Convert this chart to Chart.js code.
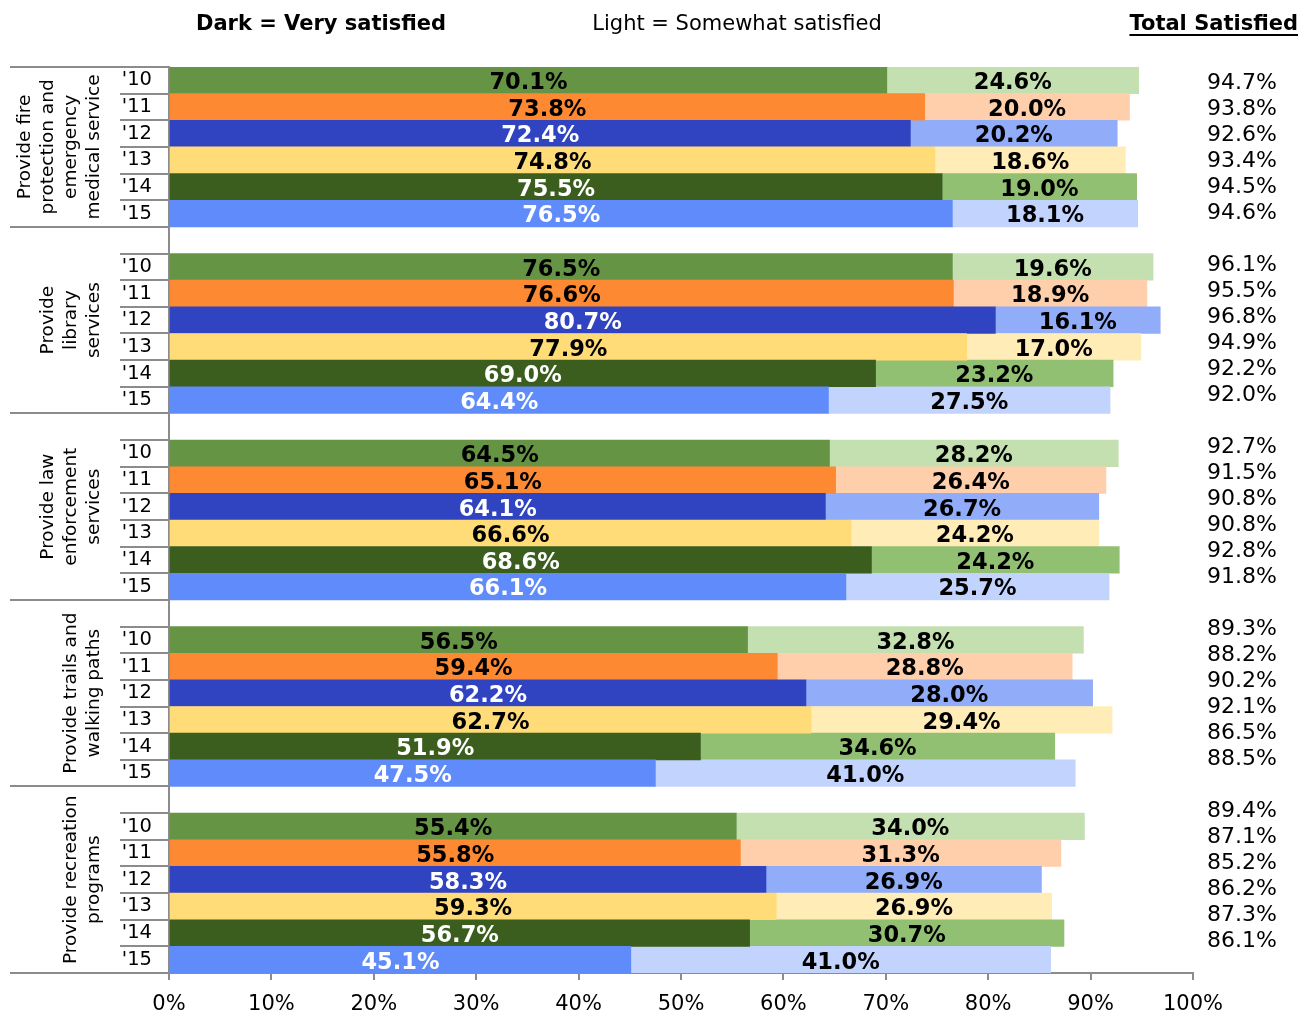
<!DOCTYPE html>
<html>
<head>
<meta charset="utf-8">
<script src="https://cdn.jsdelivr.net/npm/chart.js@4.4.0/dist/chart.umd.min.js"></script>
<style>
  body { margin: 0; background: #fff; }
  #wrap { width: 1314px; height: 1015px; }
</style>
</head>
<body>
<div id="wrap"><canvas id="grafico" width="1314" height="1015"></canvas></div>
<script>
// Años y grupos
const years = ["'10", "'11", "'12", "'13", "'14", "'15"];
const groupNames = [
  ["Provide fire", "protection and", "emergency", "medical service"],
  ["Provide", "library", "services"],
  ["Provide law", "enforcement", "services"],
  ["Provide trails and", "walking paths"],
  ["Provide recreation", "programs"]
];

// Muy satisfecho (oscuro) / algo satisfecho (claro) / total
const fireDark = [70.1, 73.8, 72.4, 74.8, 75.5, 76.5];
const fireLight = [24.6, 20.0, 20.2, 18.6, 19.0, 18.1];
const fireTotal = [94.7, 93.8, 92.6, 93.4, 94.5, 94.6];

const libraryDark = [76.5, 76.6, 80.7, 77.9, 69.0, 64.4];
const libraryLight = [19.6, 18.9, 16.1, 17.0, 23.2, 27.5];
const libraryTotal = [96.1, 95.5, 96.8, 94.9, 92.2, 92.0];

const lawDark = [64.5, 65.1, 64.1, 66.6, 68.6, 66.1];
const lawLight = [28.2, 26.4, 26.7, 24.2, 24.2, 25.7];
const lawTotal = [92.7, 91.5, 90.8, 90.8, 92.8, 91.8];

const trailsDark = [56.5, 59.4, 62.2, 62.7, 51.9, 47.5];
const trailsLight = [32.8, 28.8, 28.0, 29.4, 34.6, 41.0];
const trailsTotal = [89.3, 88.2, 90.2, 92.1, 86.5, 88.5];

const recDark = [55.4, 55.8, 58.3, 59.3, 56.7, 45.1];
const recLight = [34.0, 31.3, 26.9, 26.9, 30.7, 41.0];
const recTotal = [89.4, 87.1, 85.2, 86.2, 87.3, 86.1];

const xTicks = [0, 10, 20, 30, 40, 50, 60, 70, 80, 90, 100];

// Colores por año
const darkColors = ["#659444", "#fd8a32", "#3043c0", "#ffdc78", "#3b5e1f", "#5f8cfa"];
const lightColors = ["#c5e0b0", "#ffcfac", "#91adf9", "#ffecb6", "#92c073", "#c2d3fd"];
const darkTextColors = ["#000", "#000", "#fff", "#000", "#fff", "#fff"];

const FONT = "'DejaVu Sans', Verdana, sans-serif";
const GRAY = "#8c8c8c";

// Construir filas (con fila vacía entre grupos)
const allDark = [fireDark, libraryDark, lawDark, trailsDark, recDark];
const allLight = [fireLight, libraryLight, lawLight, trailsLight, recLight];
const allTotal = [fireTotal, libraryTotal, lawTotal, trailsTotal, recTotal];

const labels = [], darkData = [], lightData = [], darkBg = [], lightBg = [], rowYear = [];
const groupStart = [];
allDark.forEach((g, gi) => {
  groupStart.push(labels.length);
  if (gi > 0) {
    labels.push(""); darkData.push(null); lightData.push(null);
    darkBg.push("#fff"); lightBg.push("#fff"); rowYear.push(-1);
  }
  g.forEach((v, i) => {
    labels.push(years[i]);
    darkData.push(v);
    lightData.push(allLight[gi][i]);
    darkBg.push(darkColors[i]);
    lightBg.push(lightColors[i]);
    rowYear.push(i);
  });
});
groupStart.push(labels.length);

const decorPlugin = {
  id: "decor",
  afterDraw(chart) {
    const ctx = chart.ctx;
    const y = chart.scales.y;
    const area = chart.chartArea;
    const rowH = y.getPixelForValue(1) - y.getPixelForValue(0);
    const edge = i => y.getPixelForValue(i) - rowH / 2;

    ctx.save();
    // Separadores a la izquierda
    ctx.strokeStyle = GRAY;
    ctx.lineWidth = 2;
    for (let i = 0; i <= labels.length; i++) {
      const yy = Math.round(edge(i));
      const isGroup = groupStart.includes(i);
      ctx.beginPath();
      ctx.moveTo(isGroup ? 10 : 120, yy);
      ctx.lineTo(area.left, yy);
      ctx.stroke();
    }

    // Nombres de grupo rotados
    ctx.fillStyle = "#000";
    ctx.font = "18.5px " + FONT;
    ctx.textAlign = "center";
    ctx.textBaseline = "middle";
    groupNames.forEach((lines, gi) => {
      const cy = (edge(groupStart[gi]) + edge(groupStart[gi + 1])) / 2;
      lines.forEach((line, j) => {
        const x = 94 - (lines.length - 1 - j) * 23;
        ctx.save();
        ctx.translate(x, cy);
        ctx.rotate(-Math.PI / 2);
        ctx.fillText(line, 0, 0);
        ctx.restore();
      });
    });

    // Etiquetas de valores dentro de las barras
    ctx.font = "bold 22.5px " + FONT;
    [0, 1].forEach(ds => {
      const meta = chart.getDatasetMeta(ds);
      meta.data.forEach((el, idx) => {
        const v = chart.data.datasets[ds].data[idx];
        if (v == null) return;
        ctx.fillStyle = ds === 0 ? darkTextColors[rowYear[idx]] : "#000";
        ctx.fillText(v.toFixed(1) + "%", (el.x + el.base) / 2, el.y + 3);
      });
    });

    // Columna de total (caja de texto con interlineado fijo)
    ctx.font = "22px " + FONT;
    ctx.fillStyle = "#000";
    ctx.textAlign = "right";
    allTotal.forEach((g, gi) => {
      g.forEach((v, i) => {
        ctx.fillText(v.toFixed(1) + "%", area.right + 84, area.top + 16 + (gi * 7 + i) * 26);
      });
    });

    // Encabezados
    ctx.textAlign = "center";
    ctx.font = "bold 21px " + FONT;
    ctx.fillText("Dark = Very satisfied", 321, 25);
    ctx.font = "21px " + FONT;
    ctx.fillText("Light = Somewhat satisfied", 737, 25);
    ctx.font = "bold 21px " + FONT;
    ctx.textAlign = "right";
    ctx.fillText("Total Satisfied", 1298, 25);
    const w = ctx.measureText("Total Satisfied").width;
    ctx.fillRect(1298 - w, 34, w, 2);
    ctx.restore();
  }
};

new Chart(document.getElementById("grafico"), {
  type: "bar",
  data: {
    labels: labels,
    datasets: [
      { label: "Very satisfied", data: darkData, backgroundColor: darkBg, borderWidth: 0 },
      { label: "Somewhat satisfied", data: lightData, backgroundColor: lightBg, borderWidth: 0 }
    ]
  },
  options: {
    indexAxis: "y",
    responsive: false,
    animation: false,
    categoryPercentage: 1,
    barPercentage: 1,
    layout: { padding: { left: 10, right: 121, top: 67, bottom: 0 } },
    plugins: { legend: { display: false }, tooltip: { enabled: false } },
    scales: {
      x: {
        stacked: true,
        min: 0,
        max: 100,
        afterBuildTicks: s => { s.ticks = xTicks.map(v => ({ value: v })); },
        afterFit: s => { s.height = 42; },
        ticks: {
          callback: v => v + "%",
          color: "#000",
          font: { family: FONT, size: 21 },
          padding: 12,
          maxRotation: 0
        },
        grid: { drawOnChartArea: false, drawTicks: true, tickLength: 7, color: GRAY, lineWidth: 2 },
        border: { color: GRAY, width: 2 }
      },
      y: {
        stacked: true,
        afterFit: s => { s.width = 159; },
        ticks: {
          color: "#000",
          font: { family: FONT, size: 19.5 },
          padding: 17,
          autoSkip: false
        },
        grid: { display: false, drawTicks: false },
        border: { display: true, color: GRAY, width: 2 }
      }
    }
  },
  plugins: [decorPlugin]
});
</script>
</body>
</html>
